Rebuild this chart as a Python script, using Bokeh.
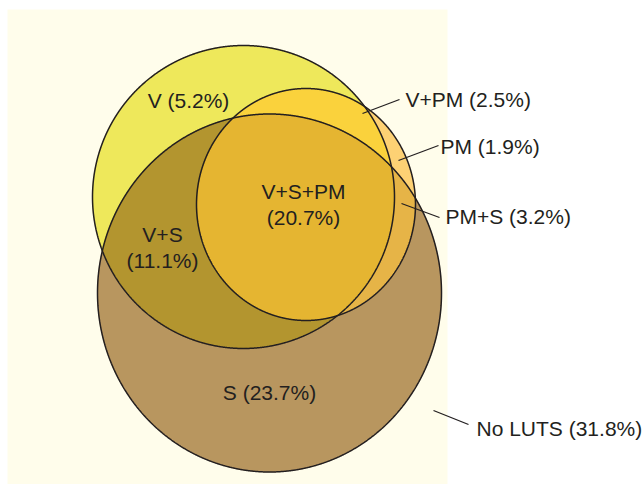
import numpy as np
from bokeh.plotting import figure
from bokeh.models import Range1d, ColumnDataSource
from bokeh.embed import file_html
from bokeh.resources import INLINE
from bokeh.core.properties import value

# ---- data ----
set_names = ["V", "PM", "S"]
region_names = ["V", "V+PM", "PM", "V+S+PM", "V+S", "PM+S", "S", "No LUTS"]
region_pcts = [5.2, 2.5, 1.9, 20.7, 11.1, 3.2, 23.7, 31.8]
region_inside = [["V"], ["V", "PM"], ["PM"], ["V", "PM", "S"], ["V", "S"], ["PM", "S"], ["S"], []]
region_outside = [["PM", "S"], ["S"], ["V", "S"], [], ["PM"], ["V"], ["V", "PM"], ["V", "PM", "S"]]
region_colors = ["#EEE85B", "#FAD23C", "#FDD174", "#E5B531", "#B3952F", "#E6B447", "#B8965F", None]

# ---- layout (pixel-like coordinates, y downward) ----
ell = {"V": (243, 196.5, 151, 151.5),
       "PM": (305.5, 204, 109.5, 116),
       "S": (269, 292.5, 172, 179)}
label_pos = {"V": (188, 100, "center"), "V+PM": (405, 99, "left"), "PM": (440, 146, "left"),
             "V+S+PM": (303, 204, "center"), "V+S": (162, 247, "center"),
             "PM+S": (445, 216, "left"), "S": (269, 392, "center"), "No LUTS": (476, 428, "left")}
leaders = {"V+PM": ((362, 113), (399, 99)), "PM": ((398, 160), (438, 145)),
           "PM+S": ((401, 203), (439, 217)), "No LUTS": ((433, 410), (468, 424))}
TXT = "#231F20"


def sample(k, n=2400):
    cx, cy, rx, ry = ell[k]
    t = np.linspace(0, 2 * np.pi, n, endpoint=False)
    return cx + rx * np.cos(t), cy + ry * np.sin(t)


def inside(k, x, y):
    cx, cy, rx, ry = ell[k]
    return ((x - cx) / rx) ** 2 + ((y - cy) / ry) ** 2 < 1


def region(ins, outs):
    runs = []
    for k in ins + outs:
        x, y = sample(k)
        ok = np.ones_like(x, dtype=bool)
        for j in ins:
            if j != k:
                ok &= inside(j, x, y)
        for j in outs:
            if j != k:
                ok &= ~inside(j, x, y)
        if ok.all():
            runs.append((x, y))
            continue
        if not ok.any():
            continue
        s = int(np.argmin(ok))
        idx = np.roll(np.arange(len(x)), -s)
        okr = ok[idx].astype(int)
        d = np.diff(np.concatenate([[0], okr, [0]]))
        for a, b in zip(np.where(d == 1)[0], np.where(d == -1)[0]):
            ii = idx[a:b]
            runs.append((x[ii], y[ii]))
    px, py = list(runs[0][0]), list(runs[0][1])
    rest = runs[1:]
    while rest:
        ex, ey = px[-1], py[-1]
        best, bi, rev = 1e18, 0, False
        for i, (rx_, ry_) in enumerate(rest):
            d0 = np.hypot(rx_[0] - ex, ry_[0] - ey)
            d1 = np.hypot(rx_[-1] - ex, ry_[-1] - ey)
            if d0 < best:
                best, bi, rev = d0, i, False
            if d1 < best:
                best, bi, rev = d1, i, True
        rx_, ry_ = rest.pop(bi)
        if rev:
            rx_, ry_ = rx_[::-1], ry_[::-1]
        px += list(rx_)
        py += list(ry_)
    return px, py


W, H = 643, 484
p = figure(width=W, height=H, x_range=Range1d(0, W), y_range=Range1d(H, 0),
           output_backend="svg", toolbar_location=None, min_border=0)
p.axis.visible = False
p.grid.visible = False
p.outline_line_color = None
p.background_fill_color = "white"
p.border_fill_color = "white"

# cream panel
p.quad(left=7, right=447, top=9, bottom=490, fill_color="#FFFDEB", line_color=None)

# regions
rx_list, ry_list, cols = [], [], []
for name, ins, outs, col in zip(region_names, region_inside, region_outside, region_colors):
    if not ins:
        continue
    xs, ys = region(ins, outs)
    rx_list.append(xs)
    ry_list.append(ys)
    cols.append(col)
p.patches(xs=rx_list, ys=ry_list, fill_color=cols, line_color=cols, line_width=0.6)

# outlines
ox, oy = [], []
for k in set_names:
    x, y = sample(k)
    ox.append(list(x))
    oy.append(list(y))
p.patches(xs=ox, ys=oy, fill_color=None, line_color=TXT, line_width=1.5)

# leader lines
for name, ((x0, y0), (x1, y1)) in leaders.items():
    p.line([x0, x1], [y0, y1], line_color=TXT, line_width=1.3)

# labels
for align in ["center", "left"]:
    xs, ys, texts = [], [], []
    for name, pct in zip(region_names, region_pcts):
        lx, ly, al = label_pos[name]
        if al != align:
            continue
        if name in ("V+S+PM", "V+S"):
            t = f"{name}\n({pct}%)"
        else:
            t = f"{name} ({pct}%)"
        xs.append(lx)
        ys.append(ly)
        texts.append(t)
    src = ColumnDataSource(dict(x=xs, y=ys, text=texts))
    p.text(x="x", y="y", text="text", source=src, text_align=align, text_baseline="middle",
           text_font=value("Liberation Sans"), text_font_size="21px", text_color=TXT,
           text_line_height=1.12)

open("out.html", "w").write(file_html(p, INLINE))
